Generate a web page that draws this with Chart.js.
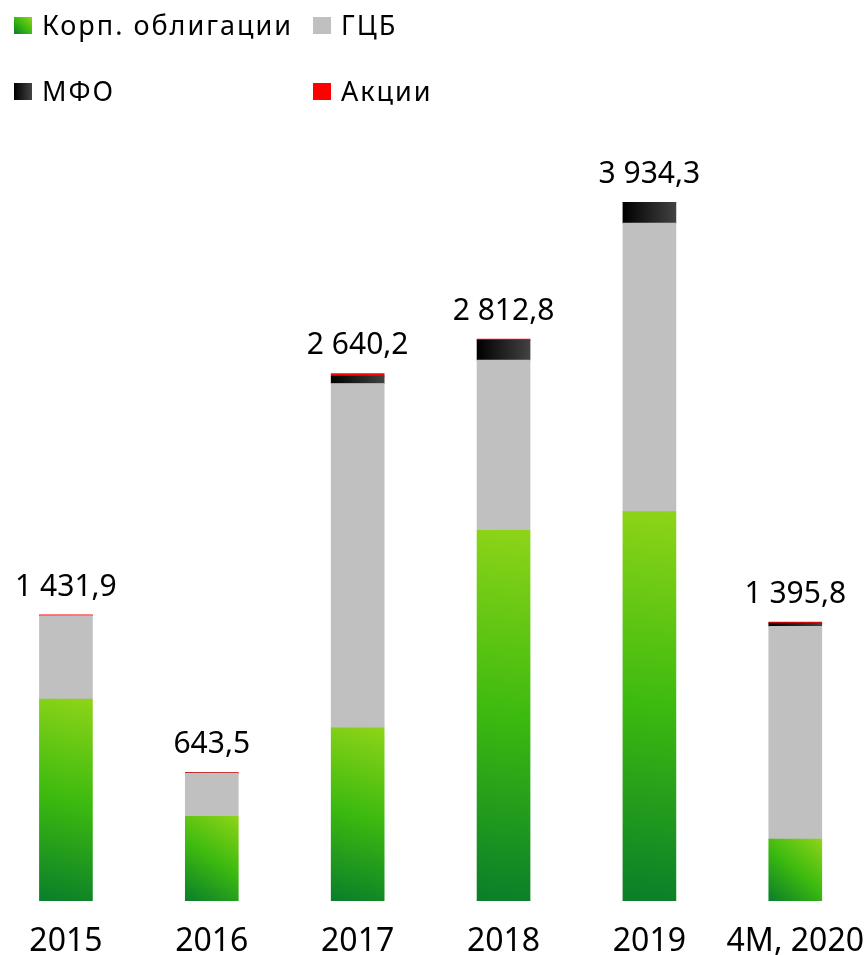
<!DOCTYPE html>
<html>
<head>
<meta charset="utf-8">
<script src="https://cdn.jsdelivr.net/npm/chart.js@4"></script>
<style>
  html, body { margin: 0; padding: 0; background: #fff; overflow: hidden; }
  body { width: 866px; height: 955px; position: relative; font-family: "Noto Sans", sans-serif; }
  #chart { position: absolute; left: -7.5px; top: 0; }
  .item { position: absolute; font-size: 27px; line-height: 27px; letter-spacing: 2px; color: #000; white-space: nowrap; }
  .box { position: absolute; width: 18px; height: 17px; }
  .txt { position: absolute; }
</style>
</head>
<body>
<!-- canvas is a bit larger than the window; the axis padding eats the extra -->
<canvas id="chart" width="896" height="983"></canvas>
<div id="legend"></div>
<script>
/*
 * Data
 */
var categories = ['2015', '2016', '2017', '2018', '2019', '4М, 2020'];
var corpBonds = [1011, 424, 867, 1855, 1949, 310];
var govBonds  = [417, 216, 1723, 852, 1443, 1064];
var mfo       = [0, 0, 37, 100, 105, 17];
var stocks    = [4, 3.5, 13, 5, 0, 5];
var totals    = [1431.9, 643.5, 2640.2, 2812.8, 3934.3, 1395.8];
var seriesNames = ['Корп. облигации', 'ГЦБ', 'МФО', 'Акции'];

var BAR = 53;

// pixel box of one stacked segment
function segBox(ctx) {
    var chart = ctx.chart;
    var xs = chart.scales.x, ys = chart.scales.y;
    var i = ctx.dataIndex, d = ctx.datasetIndex;
    var base = 0;
    for (let k = 0; k < d; k++) base += chart.data.datasets[k].data[i];
    var cx = xs.getPixelForValue(i);
    return {
        left: cx - BAR / 2, right: cx + BAR / 2,
        top: ys.getPixelForValue(base + chart.data.datasets[d].data[i]),
        bottom: ys.getPixelForValue(base)
    };
}

function greenFill(ctx) {
    var chart = ctx.chart;
    if (!chart.chartArea || ctx.dataIndex === undefined) return '#3dbb0f';
    var b = segBox(ctx);
    var g = chart.ctx.createLinearGradient(b.right, b.top, b.left, b.bottom);
    g.addColorStop(0, '#8ed418');
    g.addColorStop(0.5, '#3cba0f');
    g.addColorStop(1, '#0a7e2a');
    return g;
}

function blackFill(ctx) {
    var chart = ctx.chart;
    if (!chart.chartArea || ctx.dataIndex === undefined) return '#222';
    var b = segBox(ctx);
    var g = chart.ctx.createLinearGradient(b.left, 0, b.right, 0);
    g.addColorStop(0, '#000000');
    g.addColorStop(1, '#424242');
    return g;
}

function fmt(v) {
    var parts = v.toFixed(1).split('.');
    return parts[0].replace(/\B(?=(\d{3})+(?!\d))/g, ' ') + ',' + parts[1];
}

// totals above the bars
var totalLabels = {
    id: 'totalLabels',
    afterDatasetsDraw: function(chart) {
        var c = chart.ctx, xs = chart.scales.x, ys = chart.scales.y;
        c.save();
        c.font = '30px "Noto Sans"';
        c.fillStyle = '#000';
        c.textAlign = 'center';
        c.textBaseline = 'alphabetic';
        for (let i = 0; i < categories.length; i++) {
            var sum = 0;
            chart.data.datasets.forEach(function(ds) { sum += ds.data[i]; });
            c.fillText(fmt(totals[i]), xs.getPixelForValue(i), ys.getPixelForValue(sum) - 19);
        }
        c.restore();
    }
};

var ctx = document.getElementById('chart').getContext('2d');
var chart = new Chart(ctx, {
    type: 'bar',
    data: {
        labels: categories,
        datasets: [
            { label: seriesNames[0], data: corpBonds, backgroundColor: greenFill },
            { label: seriesNames[1], data: govBonds, backgroundColor: '#c0c0c0' },
            { label: seriesNames[2], data: mfo, backgroundColor: blackFill },
            { label: seriesNames[3], data: stocks, backgroundColor: '#ff0000' }
        ]
    },
    options: {
        responsive: false,
        animation: false,
        devicePixelRatio: 1,
        layout: { padding: 0 },
        datasets: { bar: { barThickness: BAR, borderWidth: 0 } },
        plugins: {
            legend: { display: false },
            tooltip: { enabled: false }
        },
        scales: {
            x: {
                stacked: true,
                grid: { display: false, drawTicks: false },
                border: { display: false },
                ticks: {
                    color: '#000',
                    padding: 25,
                    maxRotation: 0,
                    font: { family: 'Noto Sans', size: 32, lineHeight: 1 }
                }
            },
            y: {
                stacked: true,
                display: false,
                min: 0,
                max: 4509
            }
        }
    },
    plugins: [totalLabels]
});

// legend (html)
var legendItems = [
    { x: 14, y: 11, fill: 'linear-gradient(to bottom left, #8ed418, #3cba0f, #0a7e2a)' },
    { x: 313, y: 11, fill: '#c0c0c0' },
    { x: 14, y: 77, fill: 'linear-gradient(to right, #000, #444)' },
    { x: 313, y: 77, fill: '#ff0000' }
];
var legend = document.getElementById('legend');
legendItems.forEach(function(it, k) {
    var d = document.createElement('div');
    d.className = 'item';
    d.style.left = it.x + 'px';
    d.style.top = it.y + 'px';
    d.innerHTML = '<span class="box" style="left:0;top:6px;background:' + it.fill + '"></span>' +
        '<span class="txt" style="left:28px;top:0">' + seriesNames[k] + '</span>';
    legend.appendChild(d);
});
</script>
</body>
</html>
